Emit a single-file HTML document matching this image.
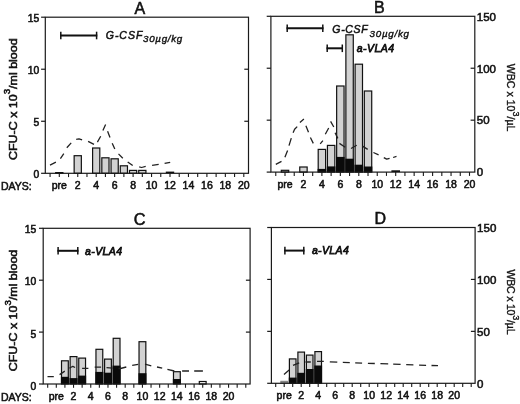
<!DOCTYPE html><html><head><meta charset="utf-8"><style>html,body{margin:0;padding:0;background:#fff;width:520px;height:404px;overflow:hidden}svg{display:block;filter:grayscale(1)}text{font-family:"Liberation Sans",sans-serif;stroke:#111;stroke-width:0.55px}</style></head><body>
<svg width="520" height="404" viewBox="0 0 520 404">
<rect width="520" height="404" fill="#fff"/>
<rect x="55.70" y="172.60" width="7.20" height="0.70" fill="#d2d2d2" stroke="#111" stroke-width="1.2"/>
<rect x="74.15" y="155.70" width="7.20" height="17.60" fill="#d2d2d2" stroke="#111" stroke-width="1.2"/>
<rect x="92.60" y="148.00" width="7.20" height="25.30" fill="#d2d2d2" stroke="#111" stroke-width="1.2"/>
<rect x="101.82" y="157.80" width="7.20" height="15.50" fill="#d2d2d2" stroke="#111" stroke-width="1.2"/>
<rect x="111.05" y="158.80" width="7.20" height="14.50" fill="#d2d2d2" stroke="#111" stroke-width="1.2"/>
<rect x="120.27" y="165.80" width="7.20" height="7.50" fill="#d2d2d2" stroke="#111" stroke-width="1.2"/>
<rect x="129.50" y="170.40" width="7.20" height="2.90" fill="#d2d2d2" stroke="#111" stroke-width="1.2"/>
<rect x="138.72" y="170.40" width="7.20" height="2.90" fill="#d2d2d2" stroke="#111" stroke-width="1.2"/>
<rect x="165.80" y="171.60" width="8.40" height="1.70" fill="#0a0a0a"/>
<path d="M50.00,165.10 L55.90,162.20 M60.40,158.70 L63.80,153.60 M66.80,147.80 L71.20,142.90 M76.20,139.40 L79.00,138.80 L82.10,139.90 M88.10,141.40 L94.00,144.40 M97.40,142.10 L100.70,136.20 M102.90,130.40 L105.60,124.60 M107.60,131.30 L110.00,137.40 M112.20,143.20 L114.80,148.90 M118.50,153.90 L122.80,158.20 M127.70,161.90 L132.70,165.60 M139.20,166.80 L141.60,167.50 L145.70,166.30 M152.10,165.40 L158.70,164.40 M164.60,163.30 L170.20,162.30" fill="none" stroke="#222" stroke-width="1.3" stroke-linejoin="round"/>
<rect x="45.30" y="17.20" width="203.20" height="156.10" fill="none" stroke="#1a1a1a" stroke-width="1.2"/>
<line x1="41.10" y1="173.30" x2="45.30" y2="173.30" stroke="#1a1a1a" stroke-width="1.2" />
<line x1="41.10" y1="121.27" x2="45.30" y2="121.27" stroke="#1a1a1a" stroke-width="1.2" />
<line x1="41.10" y1="69.23" x2="45.30" y2="69.23" stroke="#1a1a1a" stroke-width="1.2" />
<line x1="41.10" y1="17.20" x2="45.30" y2="17.20" stroke="#1a1a1a" stroke-width="1.2" />
<line x1="244.30" y1="121.27" x2="248.50" y2="121.27" stroke="#1a1a1a" stroke-width="1.2" />
<line x1="244.30" y1="69.23" x2="248.50" y2="69.23" stroke="#1a1a1a" stroke-width="1.2" />
<line x1="50.07" y1="173.30" x2="50.07" y2="177.10" stroke="#1a1a1a" stroke-width="1.1" />
<line x1="59.30" y1="173.30" x2="59.30" y2="177.10" stroke="#1a1a1a" stroke-width="1.1" />
<line x1="68.52" y1="173.30" x2="68.52" y2="177.10" stroke="#1a1a1a" stroke-width="1.1" />
<line x1="77.75" y1="173.30" x2="77.75" y2="177.10" stroke="#1a1a1a" stroke-width="1.1" />
<line x1="86.97" y1="173.30" x2="86.97" y2="177.10" stroke="#1a1a1a" stroke-width="1.1" />
<line x1="96.20" y1="173.30" x2="96.20" y2="177.10" stroke="#1a1a1a" stroke-width="1.1" />
<line x1="105.42" y1="173.30" x2="105.42" y2="177.10" stroke="#1a1a1a" stroke-width="1.1" />
<line x1="114.65" y1="173.30" x2="114.65" y2="177.10" stroke="#1a1a1a" stroke-width="1.1" />
<line x1="123.88" y1="173.30" x2="123.88" y2="177.10" stroke="#1a1a1a" stroke-width="1.1" />
<line x1="133.10" y1="173.30" x2="133.10" y2="177.10" stroke="#1a1a1a" stroke-width="1.1" />
<line x1="142.32" y1="173.30" x2="142.32" y2="177.10" stroke="#1a1a1a" stroke-width="1.1" />
<line x1="151.55" y1="173.30" x2="151.55" y2="177.10" stroke="#1a1a1a" stroke-width="1.1" />
<line x1="160.77" y1="173.30" x2="160.77" y2="177.10" stroke="#1a1a1a" stroke-width="1.1" />
<line x1="170.00" y1="173.30" x2="170.00" y2="177.10" stroke="#1a1a1a" stroke-width="1.1" />
<line x1="179.22" y1="173.30" x2="179.22" y2="177.10" stroke="#1a1a1a" stroke-width="1.1" />
<line x1="188.45" y1="173.30" x2="188.45" y2="177.10" stroke="#1a1a1a" stroke-width="1.1" />
<line x1="197.68" y1="173.30" x2="197.68" y2="177.10" stroke="#1a1a1a" stroke-width="1.1" />
<line x1="206.90" y1="173.30" x2="206.90" y2="177.10" stroke="#1a1a1a" stroke-width="1.1" />
<line x1="216.12" y1="173.30" x2="216.12" y2="177.10" stroke="#1a1a1a" stroke-width="1.1" />
<line x1="225.35" y1="173.30" x2="225.35" y2="177.10" stroke="#1a1a1a" stroke-width="1.1" />
<line x1="234.57" y1="173.30" x2="234.57" y2="177.10" stroke="#1a1a1a" stroke-width="1.1" />
<line x1="243.80" y1="173.30" x2="243.80" y2="177.10" stroke="#1a1a1a" stroke-width="1.1" />
<rect x="281.30" y="170.30" width="7.40" height="1.80" fill="#d2d2d2" stroke="#111" stroke-width="1.2"/>
<rect x="299.75" y="167.00" width="7.40" height="5.10" fill="#d2d2d2" stroke="#111" stroke-width="1.2"/>
<rect x="318.20" y="149.40" width="7.40" height="22.70" fill="#d2d2d2" stroke="#111" stroke-width="1.2"/>
<rect x="317.60" y="168.90" width="8.60" height="3.20" fill="#0a0a0a"/>
<rect x="327.43" y="145.40" width="7.40" height="26.70" fill="#d2d2d2" stroke="#111" stroke-width="1.2"/>
<rect x="326.82" y="166.40" width="8.60" height="5.70" fill="#0a0a0a"/>
<rect x="336.65" y="86.00" width="7.40" height="86.10" fill="#d2d2d2" stroke="#111" stroke-width="1.2"/>
<rect x="336.05" y="156.90" width="8.60" height="15.20" fill="#0a0a0a"/>
<rect x="345.88" y="34.80" width="7.40" height="137.30" fill="#d2d2d2" stroke="#111" stroke-width="1.2"/>
<rect x="345.27" y="158.70" width="8.60" height="13.40" fill="#0a0a0a"/>
<rect x="355.10" y="64.20" width="7.40" height="107.90" fill="#d2d2d2" stroke="#111" stroke-width="1.2"/>
<rect x="354.50" y="164.70" width="8.60" height="7.40" fill="#0a0a0a"/>
<rect x="364.32" y="91.00" width="7.40" height="81.10" fill="#d2d2d2" stroke="#111" stroke-width="1.2"/>
<rect x="363.72" y="166.50" width="8.60" height="5.60" fill="#0a0a0a"/>
<rect x="391.40" y="170.30" width="8.60" height="1.80" fill="#0a0a0a"/>
<path d="M275.80,164.30 L281.50,161.30 M284.90,157.20 L287.60,150.60 M289.00,145.60 L291.30,138.10 M293.10,132.70 L294.60,129.30 L297.20,126.60 M299.90,122.50 L303.90,119.10 M305.90,125.80 L308.50,132.20 M310.40,137.50 L313.30,143.40 M320.20,143.90 L322.90,140.70 M325.30,134.30 L328.70,128.00 M330.60,121.40 L333.80,127.00 M335.10,132.70 L337.80,138.40 M339.40,143.40 L345.20,147.30 M351.00,148.50 L356.70,145.20 M362.50,146.10 L367.70,149.40 M373.40,152.50 L378.60,154.80 M383.80,157.70 L386.70,159.20 L389.60,158.30 M393.10,157.50 L396.50,156.30" fill="none" stroke="#222" stroke-width="1.3" stroke-linejoin="round"/>
<rect x="270.90" y="16.30" width="203.90" height="155.80" fill="none" stroke="#1a1a1a" stroke-width="1.2"/>
<line x1="266.70" y1="172.10" x2="270.90" y2="172.10" stroke="#1a1a1a" stroke-width="1.2" />
<line x1="266.70" y1="120.17" x2="270.90" y2="120.17" stroke="#1a1a1a" stroke-width="1.2" />
<line x1="266.70" y1="68.23" x2="270.90" y2="68.23" stroke="#1a1a1a" stroke-width="1.2" />
<line x1="266.70" y1="16.30" x2="270.90" y2="16.30" stroke="#1a1a1a" stroke-width="1.2" />
<line x1="470.60" y1="120.17" x2="474.80" y2="120.17" stroke="#1a1a1a" stroke-width="1.2" />
<line x1="470.60" y1="68.23" x2="474.80" y2="68.23" stroke="#1a1a1a" stroke-width="1.2" />
<line x1="275.77" y1="172.10" x2="275.77" y2="175.90" stroke="#1a1a1a" stroke-width="1.1" />
<line x1="285.00" y1="172.10" x2="285.00" y2="175.90" stroke="#1a1a1a" stroke-width="1.1" />
<line x1="294.23" y1="172.10" x2="294.23" y2="175.90" stroke="#1a1a1a" stroke-width="1.1" />
<line x1="303.45" y1="172.10" x2="303.45" y2="175.90" stroke="#1a1a1a" stroke-width="1.1" />
<line x1="312.68" y1="172.10" x2="312.68" y2="175.90" stroke="#1a1a1a" stroke-width="1.1" />
<line x1="321.90" y1="172.10" x2="321.90" y2="175.90" stroke="#1a1a1a" stroke-width="1.1" />
<line x1="331.12" y1="172.10" x2="331.12" y2="175.90" stroke="#1a1a1a" stroke-width="1.1" />
<line x1="340.35" y1="172.10" x2="340.35" y2="175.90" stroke="#1a1a1a" stroke-width="1.1" />
<line x1="349.57" y1="172.10" x2="349.57" y2="175.90" stroke="#1a1a1a" stroke-width="1.1" />
<line x1="358.80" y1="172.10" x2="358.80" y2="175.90" stroke="#1a1a1a" stroke-width="1.1" />
<line x1="368.02" y1="172.10" x2="368.02" y2="175.90" stroke="#1a1a1a" stroke-width="1.1" />
<line x1="377.25" y1="172.10" x2="377.25" y2="175.90" stroke="#1a1a1a" stroke-width="1.1" />
<line x1="386.48" y1="172.10" x2="386.48" y2="175.90" stroke="#1a1a1a" stroke-width="1.1" />
<line x1="395.70" y1="172.10" x2="395.70" y2="175.90" stroke="#1a1a1a" stroke-width="1.1" />
<line x1="404.93" y1="172.10" x2="404.93" y2="175.90" stroke="#1a1a1a" stroke-width="1.1" />
<line x1="414.15" y1="172.10" x2="414.15" y2="175.90" stroke="#1a1a1a" stroke-width="1.1" />
<line x1="423.38" y1="172.10" x2="423.38" y2="175.90" stroke="#1a1a1a" stroke-width="1.1" />
<line x1="432.60" y1="172.10" x2="432.60" y2="175.90" stroke="#1a1a1a" stroke-width="1.1" />
<line x1="441.82" y1="172.10" x2="441.82" y2="175.90" stroke="#1a1a1a" stroke-width="1.1" />
<line x1="451.05" y1="172.10" x2="451.05" y2="175.90" stroke="#1a1a1a" stroke-width="1.1" />
<line x1="460.27" y1="172.10" x2="460.27" y2="175.90" stroke="#1a1a1a" stroke-width="1.1" />
<line x1="469.50" y1="172.10" x2="469.50" y2="175.90" stroke="#1a1a1a" stroke-width="1.1" />
<rect x="61.51" y="360.80" width="6.80" height="23.20" fill="#d2d2d2" stroke="#111" stroke-width="1.2"/>
<rect x="60.91" y="376.80" width="8.00" height="7.20" fill="#0a0a0a"/>
<rect x="70.13" y="356.60" width="6.80" height="27.40" fill="#d2d2d2" stroke="#111" stroke-width="1.2"/>
<rect x="69.53" y="378.10" width="8.00" height="5.90" fill="#0a0a0a"/>
<rect x="78.74" y="358.10" width="6.80" height="25.90" fill="#d2d2d2" stroke="#111" stroke-width="1.2"/>
<rect x="78.14" y="375.60" width="8.00" height="8.40" fill="#0a0a0a"/>
<rect x="95.96" y="349.30" width="6.80" height="34.70" fill="#d2d2d2" stroke="#111" stroke-width="1.2"/>
<rect x="95.36" y="371.90" width="8.00" height="12.10" fill="#0a0a0a"/>
<rect x="104.58" y="359.10" width="6.80" height="24.90" fill="#d2d2d2" stroke="#111" stroke-width="1.2"/>
<rect x="103.98" y="372.70" width="8.00" height="11.30" fill="#0a0a0a"/>
<rect x="113.19" y="338.30" width="6.80" height="45.70" fill="#d2d2d2" stroke="#111" stroke-width="1.2"/>
<rect x="112.59" y="365.60" width="8.00" height="18.40" fill="#0a0a0a"/>
<rect x="139.03" y="341.70" width="6.80" height="42.30" fill="#d2d2d2" stroke="#111" stroke-width="1.2"/>
<rect x="138.43" y="373.20" width="8.00" height="10.80" fill="#0a0a0a"/>
<rect x="173.48" y="371.70" width="6.80" height="12.30" fill="#d2d2d2" stroke="#111" stroke-width="1.2"/>
<rect x="172.88" y="379.00" width="8.00" height="5.00" fill="#0a0a0a"/>
<rect x="199.32" y="381.50" width="6.80" height="2.50" fill="#fff" stroke="#111" stroke-width="1.2"/>
<path d="M47.50,376.60 L53.80,376.60 M59.60,374.60 L64.80,371.10 M69.40,368.30 L72.80,366.30 L75.10,367.50 M82.10,368.30 L88.40,368.30 M94.70,367.20 L101.10,367.20 M106.50,367.60 L112.50,368.20 M118.50,368.50 L120.40,368.50 L126.30,367.00 M132.20,365.40 L138.20,364.40 M145.00,364.20 L151.30,365.80 M157.00,367.00 L162.20,368.20 M167.40,369.30 L174.30,371.00 M182.10,371.00 L189.00,371.00 M194.20,371.00 L202.90,371.00" fill="none" stroke="#222" stroke-width="1.3" stroke-linejoin="round"/>
<rect x="43.20" y="228.30" width="206.90" height="155.70" fill="none" stroke="#1a1a1a" stroke-width="1.2"/>
<line x1="39.00" y1="384.00" x2="43.20" y2="384.00" stroke="#1a1a1a" stroke-width="1.2" />
<line x1="39.00" y1="332.10" x2="43.20" y2="332.10" stroke="#1a1a1a" stroke-width="1.2" />
<line x1="39.00" y1="280.20" x2="43.20" y2="280.20" stroke="#1a1a1a" stroke-width="1.2" />
<line x1="39.00" y1="228.30" x2="43.20" y2="228.30" stroke="#1a1a1a" stroke-width="1.2" />
<line x1="245.90" y1="332.10" x2="250.10" y2="332.10" stroke="#1a1a1a" stroke-width="1.2" />
<line x1="245.90" y1="280.20" x2="250.10" y2="280.20" stroke="#1a1a1a" stroke-width="1.2" />
<line x1="47.69" y1="384.00" x2="47.69" y2="387.80" stroke="#1a1a1a" stroke-width="1.1" />
<line x1="56.30" y1="384.00" x2="56.30" y2="387.80" stroke="#1a1a1a" stroke-width="1.1" />
<line x1="64.91" y1="384.00" x2="64.91" y2="387.80" stroke="#1a1a1a" stroke-width="1.1" />
<line x1="73.53" y1="384.00" x2="73.53" y2="387.80" stroke="#1a1a1a" stroke-width="1.1" />
<line x1="82.14" y1="384.00" x2="82.14" y2="387.80" stroke="#1a1a1a" stroke-width="1.1" />
<line x1="90.75" y1="384.00" x2="90.75" y2="387.80" stroke="#1a1a1a" stroke-width="1.1" />
<line x1="99.36" y1="384.00" x2="99.36" y2="387.80" stroke="#1a1a1a" stroke-width="1.1" />
<line x1="107.98" y1="384.00" x2="107.98" y2="387.80" stroke="#1a1a1a" stroke-width="1.1" />
<line x1="116.59" y1="384.00" x2="116.59" y2="387.80" stroke="#1a1a1a" stroke-width="1.1" />
<line x1="125.20" y1="384.00" x2="125.20" y2="387.80" stroke="#1a1a1a" stroke-width="1.1" />
<line x1="133.82" y1="384.00" x2="133.82" y2="387.80" stroke="#1a1a1a" stroke-width="1.1" />
<line x1="142.43" y1="384.00" x2="142.43" y2="387.80" stroke="#1a1a1a" stroke-width="1.1" />
<line x1="151.04" y1="384.00" x2="151.04" y2="387.80" stroke="#1a1a1a" stroke-width="1.1" />
<line x1="159.66" y1="384.00" x2="159.66" y2="387.80" stroke="#1a1a1a" stroke-width="1.1" />
<line x1="168.27" y1="384.00" x2="168.27" y2="387.80" stroke="#1a1a1a" stroke-width="1.1" />
<line x1="176.88" y1="384.00" x2="176.88" y2="387.80" stroke="#1a1a1a" stroke-width="1.1" />
<line x1="185.50" y1="384.00" x2="185.50" y2="387.80" stroke="#1a1a1a" stroke-width="1.1" />
<line x1="194.11" y1="384.00" x2="194.11" y2="387.80" stroke="#1a1a1a" stroke-width="1.1" />
<line x1="202.72" y1="384.00" x2="202.72" y2="387.80" stroke="#1a1a1a" stroke-width="1.1" />
<line x1="211.33" y1="384.00" x2="211.33" y2="387.80" stroke="#1a1a1a" stroke-width="1.1" />
<line x1="219.95" y1="384.00" x2="219.95" y2="387.80" stroke="#1a1a1a" stroke-width="1.1" />
<line x1="228.56" y1="384.00" x2="228.56" y2="387.80" stroke="#1a1a1a" stroke-width="1.1" />
<line x1="237.17" y1="384.00" x2="237.17" y2="387.80" stroke="#1a1a1a" stroke-width="1.1" />
<line x1="245.79" y1="384.00" x2="245.79" y2="387.80" stroke="#1a1a1a" stroke-width="1.1" />
<rect x="280.80" y="381.20" width="6.80" height="2.10" fill="#8a8a8a" stroke="#777" stroke-width="0.8"/>
<rect x="289.40" y="358.90" width="6.60" height="24.40" fill="#d2d2d2" stroke="#111" stroke-width="1.2"/>
<rect x="288.80" y="377.60" width="7.80" height="5.70" fill="#0a0a0a"/>
<rect x="297.90" y="352.10" width="6.60" height="31.20" fill="#d2d2d2" stroke="#111" stroke-width="1.2"/>
<rect x="297.30" y="372.80" width="7.80" height="10.50" fill="#0a0a0a"/>
<rect x="306.40" y="355.10" width="6.60" height="28.20" fill="#d2d2d2" stroke="#111" stroke-width="1.2"/>
<rect x="305.80" y="369.00" width="7.80" height="14.30" fill="#0a0a0a"/>
<rect x="314.90" y="351.60" width="6.60" height="31.70" fill="#d2d2d2" stroke="#111" stroke-width="1.2"/>
<rect x="314.30" y="365.50" width="7.80" height="17.80" fill="#0a0a0a"/>
<path d="M284.00,374.50 L289.10,370.00 M293.00,365.40 L299.20,362.80 M305.50,362.00 L310.80,362.00 M317.00,361.30 L323.80,361.40 M329.80,361.80 L337.30,362.20 M342.80,362.40 L349.80,362.60 M355.20,362.80 L362.10,363.10 M367.90,363.30 L374.80,363.50 M380.40,363.70 L388.20,363.90 M393.20,364.20 L400.60,364.40 M406.20,364.70 L413.40,364.90 M419.10,365.10 L426.10,365.30 M431.50,365.50 L438.00,365.70" fill="none" stroke="#222" stroke-width="1.3" stroke-linejoin="round"/>
<rect x="271.40" y="227.50" width="203.70" height="155.80" fill="none" stroke="#1a1a1a" stroke-width="1.2"/>
<line x1="267.20" y1="383.30" x2="271.40" y2="383.30" stroke="#1a1a1a" stroke-width="1.2" />
<line x1="267.20" y1="331.37" x2="271.40" y2="331.37" stroke="#1a1a1a" stroke-width="1.2" />
<line x1="267.20" y1="279.43" x2="271.40" y2="279.43" stroke="#1a1a1a" stroke-width="1.2" />
<line x1="267.20" y1="227.50" x2="271.40" y2="227.50" stroke="#1a1a1a" stroke-width="1.2" />
<line x1="470.90" y1="331.37" x2="475.10" y2="331.37" stroke="#1a1a1a" stroke-width="1.2" />
<line x1="470.90" y1="279.43" x2="475.10" y2="279.43" stroke="#1a1a1a" stroke-width="1.2" />
<line x1="275.70" y1="383.30" x2="275.70" y2="387.10" stroke="#1a1a1a" stroke-width="1.1" />
<line x1="284.20" y1="383.30" x2="284.20" y2="387.10" stroke="#1a1a1a" stroke-width="1.1" />
<line x1="292.70" y1="383.30" x2="292.70" y2="387.10" stroke="#1a1a1a" stroke-width="1.1" />
<line x1="301.20" y1="383.30" x2="301.20" y2="387.10" stroke="#1a1a1a" stroke-width="1.1" />
<line x1="309.70" y1="383.30" x2="309.70" y2="387.10" stroke="#1a1a1a" stroke-width="1.1" />
<line x1="318.20" y1="383.30" x2="318.20" y2="387.10" stroke="#1a1a1a" stroke-width="1.1" />
<line x1="326.70" y1="383.30" x2="326.70" y2="387.10" stroke="#1a1a1a" stroke-width="1.1" />
<line x1="335.20" y1="383.30" x2="335.20" y2="387.10" stroke="#1a1a1a" stroke-width="1.1" />
<line x1="343.70" y1="383.30" x2="343.70" y2="387.10" stroke="#1a1a1a" stroke-width="1.1" />
<line x1="352.20" y1="383.30" x2="352.20" y2="387.10" stroke="#1a1a1a" stroke-width="1.1" />
<line x1="360.70" y1="383.30" x2="360.70" y2="387.10" stroke="#1a1a1a" stroke-width="1.1" />
<line x1="369.20" y1="383.30" x2="369.20" y2="387.10" stroke="#1a1a1a" stroke-width="1.1" />
<line x1="377.70" y1="383.30" x2="377.70" y2="387.10" stroke="#1a1a1a" stroke-width="1.1" />
<line x1="386.20" y1="383.30" x2="386.20" y2="387.10" stroke="#1a1a1a" stroke-width="1.1" />
<line x1="394.70" y1="383.30" x2="394.70" y2="387.10" stroke="#1a1a1a" stroke-width="1.1" />
<line x1="403.20" y1="383.30" x2="403.20" y2="387.10" stroke="#1a1a1a" stroke-width="1.1" />
<line x1="411.70" y1="383.30" x2="411.70" y2="387.10" stroke="#1a1a1a" stroke-width="1.1" />
<line x1="420.20" y1="383.30" x2="420.20" y2="387.10" stroke="#1a1a1a" stroke-width="1.1" />
<line x1="428.70" y1="383.30" x2="428.70" y2="387.10" stroke="#1a1a1a" stroke-width="1.1" />
<line x1="437.20" y1="383.30" x2="437.20" y2="387.10" stroke="#1a1a1a" stroke-width="1.1" />
<line x1="445.70" y1="383.30" x2="445.70" y2="387.10" stroke="#1a1a1a" stroke-width="1.1" />
<line x1="454.20" y1="383.30" x2="454.20" y2="387.10" stroke="#1a1a1a" stroke-width="1.1" />
<line x1="462.70" y1="383.30" x2="462.70" y2="387.10" stroke="#1a1a1a" stroke-width="1.1" />
<line x1="471.20" y1="383.30" x2="471.20" y2="387.10" stroke="#1a1a1a" stroke-width="1.1" />
<text x="39.30" y="21.50" font-size="10.3" text-anchor="end" font-weight="normal" font-style="normal" fill="#111" >15</text>
<text x="39.30" y="73.53" font-size="10.3" text-anchor="end" font-weight="normal" font-style="normal" fill="#111" >10</text>
<text x="39.30" y="125.57" font-size="10.3" text-anchor="end" font-weight="normal" font-style="normal" fill="#111" >5</text>
<text x="39.30" y="177.60" font-size="10.3" text-anchor="end" font-weight="normal" font-style="normal" fill="#111" >0</text>
<text x="36.20" y="232.60" font-size="10.3" text-anchor="end" font-weight="normal" font-style="normal" fill="#111" >15</text>
<text x="36.20" y="284.50" font-size="10.3" text-anchor="end" font-weight="normal" font-style="normal" fill="#111" >10</text>
<text x="36.20" y="337.70" font-size="10.3" text-anchor="end" font-weight="normal" font-style="normal" fill="#111" >5</text>
<text x="36.20" y="389.60" font-size="10.3" text-anchor="end" font-weight="normal" font-style="normal" fill="#111" >0</text>
<text x="476.80" y="20.60" font-size="11.5" text-anchor="start" font-weight="normal" font-style="normal" fill="#111" >150</text>
<text x="476.80" y="72.53" font-size="11.5" text-anchor="start" font-weight="normal" font-style="normal" fill="#111" >100</text>
<text x="476.80" y="124.47" font-size="11.5" text-anchor="start" font-weight="normal" font-style="normal" fill="#111" >50</text>
<text x="476.80" y="176.40" font-size="11.5" text-anchor="start" font-weight="normal" font-style="normal" fill="#111" >0</text>
<text x="477.10" y="231.80" font-size="11.5" text-anchor="start" font-weight="normal" font-style="normal" fill="#111" >150</text>
<text x="477.10" y="283.73" font-size="11.5" text-anchor="start" font-weight="normal" font-style="normal" fill="#111" >100</text>
<text x="477.10" y="335.67" font-size="11.5" text-anchor="start" font-weight="normal" font-style="normal" fill="#111" >50</text>
<text x="477.10" y="387.60" font-size="11.5" text-anchor="start" font-weight="normal" font-style="normal" fill="#111" >0</text>
<text x="59.30" y="188.90" font-size="10.5" text-anchor="middle" font-weight="normal" font-style="normal" fill="#111" >pre</text>
<text x="77.75" y="188.90" font-size="10.5" text-anchor="middle" font-weight="normal" font-style="normal" fill="#111" >2</text>
<text x="96.20" y="188.90" font-size="10.5" text-anchor="middle" font-weight="normal" font-style="normal" fill="#111" >4</text>
<text x="114.65" y="188.90" font-size="10.5" text-anchor="middle" font-weight="normal" font-style="normal" fill="#111" >6</text>
<text x="133.10" y="188.90" font-size="10.5" text-anchor="middle" font-weight="normal" font-style="normal" fill="#111" >8</text>
<text x="151.55" y="188.90" font-size="10.5" text-anchor="middle" font-weight="normal" font-style="normal" fill="#111" >10</text>
<text x="170.00" y="188.90" font-size="10.5" text-anchor="middle" font-weight="normal" font-style="normal" fill="#111" >12</text>
<text x="188.45" y="188.90" font-size="10.5" text-anchor="middle" font-weight="normal" font-style="normal" fill="#111" >14</text>
<text x="206.90" y="188.90" font-size="10.5" text-anchor="middle" font-weight="normal" font-style="normal" fill="#111" >16</text>
<text x="225.35" y="188.90" font-size="10.5" text-anchor="middle" font-weight="normal" font-style="normal" fill="#111" >18</text>
<text x="243.80" y="188.90" font-size="10.5" text-anchor="middle" font-weight="normal" font-style="normal" fill="#111" >20</text>
<text x="285.00" y="187.70" font-size="10.5" text-anchor="middle" font-weight="normal" font-style="normal" fill="#111" >pre</text>
<text x="303.45" y="187.70" font-size="10.5" text-anchor="middle" font-weight="normal" font-style="normal" fill="#111" >2</text>
<text x="321.90" y="187.70" font-size="10.5" text-anchor="middle" font-weight="normal" font-style="normal" fill="#111" >4</text>
<text x="340.35" y="187.70" font-size="10.5" text-anchor="middle" font-weight="normal" font-style="normal" fill="#111" >6</text>
<text x="358.80" y="187.70" font-size="10.5" text-anchor="middle" font-weight="normal" font-style="normal" fill="#111" >8</text>
<text x="377.25" y="187.70" font-size="10.5" text-anchor="middle" font-weight="normal" font-style="normal" fill="#111" >10</text>
<text x="395.70" y="187.70" font-size="10.5" text-anchor="middle" font-weight="normal" font-style="normal" fill="#111" >12</text>
<text x="414.15" y="187.70" font-size="10.5" text-anchor="middle" font-weight="normal" font-style="normal" fill="#111" >14</text>
<text x="432.60" y="187.70" font-size="10.5" text-anchor="middle" font-weight="normal" font-style="normal" fill="#111" >16</text>
<text x="451.05" y="187.70" font-size="10.5" text-anchor="middle" font-weight="normal" font-style="normal" fill="#111" >18</text>
<text x="469.50" y="187.70" font-size="10.5" text-anchor="middle" font-weight="normal" font-style="normal" fill="#111" >20</text>
<text x="56.30" y="400.30" font-size="10.5" text-anchor="middle" font-weight="normal" font-style="normal" fill="#111" >pre</text>
<text x="73.53" y="400.30" font-size="10.5" text-anchor="middle" font-weight="normal" font-style="normal" fill="#111" >2</text>
<text x="90.75" y="400.30" font-size="10.5" text-anchor="middle" font-weight="normal" font-style="normal" fill="#111" >4</text>
<text x="107.98" y="400.30" font-size="10.5" text-anchor="middle" font-weight="normal" font-style="normal" fill="#111" >6</text>
<text x="125.20" y="400.30" font-size="10.5" text-anchor="middle" font-weight="normal" font-style="normal" fill="#111" >8</text>
<text x="142.43" y="400.30" font-size="10.5" text-anchor="middle" font-weight="normal" font-style="normal" fill="#111" >10</text>
<text x="159.66" y="400.30" font-size="10.5" text-anchor="middle" font-weight="normal" font-style="normal" fill="#111" >12</text>
<text x="176.88" y="400.30" font-size="10.5" text-anchor="middle" font-weight="normal" font-style="normal" fill="#111" >14</text>
<text x="194.11" y="400.30" font-size="10.5" text-anchor="middle" font-weight="normal" font-style="normal" fill="#111" >16</text>
<text x="211.33" y="400.30" font-size="10.5" text-anchor="middle" font-weight="normal" font-style="normal" fill="#111" >18</text>
<text x="228.56" y="400.30" font-size="10.5" text-anchor="middle" font-weight="normal" font-style="normal" fill="#111" >20</text>
<text x="284.20" y="398.90" font-size="10.5" text-anchor="middle" font-weight="normal" font-style="normal" fill="#111" >pre</text>
<text x="301.20" y="398.90" font-size="10.5" text-anchor="middle" font-weight="normal" font-style="normal" fill="#111" >2</text>
<text x="318.20" y="398.90" font-size="10.5" text-anchor="middle" font-weight="normal" font-style="normal" fill="#111" >4</text>
<text x="335.20" y="398.90" font-size="10.5" text-anchor="middle" font-weight="normal" font-style="normal" fill="#111" >6</text>
<text x="352.20" y="398.90" font-size="10.5" text-anchor="middle" font-weight="normal" font-style="normal" fill="#111" >8</text>
<text x="369.20" y="398.90" font-size="10.5" text-anchor="middle" font-weight="normal" font-style="normal" fill="#111" >10</text>
<text x="386.20" y="398.90" font-size="10.5" text-anchor="middle" font-weight="normal" font-style="normal" fill="#111" >12</text>
<text x="403.20" y="398.90" font-size="10.5" text-anchor="middle" font-weight="normal" font-style="normal" fill="#111" >14</text>
<text x="420.20" y="398.90" font-size="10.5" text-anchor="middle" font-weight="normal" font-style="normal" fill="#111" >16</text>
<text x="437.20" y="398.90" font-size="10.5" text-anchor="middle" font-weight="normal" font-style="normal" fill="#111" >18</text>
<text x="454.20" y="398.90" font-size="10.5" text-anchor="middle" font-weight="normal" font-style="normal" fill="#111" >20</text>
<text x="1.00" y="189.50" font-size="10.5" text-anchor="start" font-weight="normal" font-style="normal" fill="#111" >DAYS:</text>
<text x="1.00" y="401.00" font-size="10.5" text-anchor="start" font-weight="normal" font-style="normal" fill="#111" >DAYS:</text>
<text x="139.80" y="13.90" font-size="16" text-anchor="middle" font-weight="normal" font-style="normal" fill="#111" >A</text>
<text x="379.30" y="12.60" font-size="16" text-anchor="middle" font-weight="normal" font-style="normal" fill="#111" >B</text>
<text x="139.70" y="225.20" font-size="16.3" text-anchor="middle" font-weight="normal" font-style="normal" fill="#111" >C</text>
<text x="380.40" y="223.70" font-size="16" text-anchor="middle" font-weight="normal" font-style="normal" fill="#111" >D</text>
<text transform="translate(17.20,160.00) rotate(-90)" font-size="11.5" fill="#111" textLength="121.60" lengthAdjust="spacingAndGlyphs">CFU-C x 10<tspan font-size="9" dy="-6.8">3</tspan><tspan dy="6.8">/ml blood</tspan></text>
<text transform="translate(17.30,371.20) rotate(-90)" font-size="11.5" fill="#111" textLength="121.50" lengthAdjust="spacingAndGlyphs">CFU-C x 10<tspan font-size="9" dy="-6.8">3</tspan><tspan dy="6.8">/ml blood</tspan></text>
<text transform="translate(506.60,63.70) rotate(90)" font-size="10.6" fill="#111" style="stroke-width:0.35px" textLength="67.80" lengthAdjust="spacing">WBC x 10<tspan font-size="9" dy="-6.8">3</tspan><tspan dy="6.8">/µL</tspan></text>
<text transform="translate(506.60,269.40) rotate(90)" font-size="10.6" fill="#111" style="stroke-width:0.35px" textLength="65.20" lengthAdjust="spacing">WBC x 10<tspan font-size="9" dy="-6.8">3</tspan><tspan dy="6.8">/µL</tspan></text>
<line x1="60.10" y1="35.50" x2="97.30" y2="35.50" stroke="#111" stroke-width="2.0" />
<line x1="60.80" y1="31.70" x2="60.80" y2="39.30" stroke="#111" stroke-width="1.5" />
<line x1="96.60" y1="31.70" x2="96.60" y2="39.30" stroke="#111" stroke-width="1.5" />
<text x="105.80" y="38.60" font-size="10.5" text-anchor="start" font-weight="normal" font-style="italic" fill="#111" textLength="36.50" lengthAdjust="spacing" style="stroke-width:0.5px">G-CSF</text>
<text x="143.00" y="42.30" font-size="9.8" text-anchor="start" font-weight="normal" font-style="italic" fill="#111" textLength="39.30" lengthAdjust="spacing" style="stroke-width:0.4px">30µg/kg</text>
<line x1="286.50" y1="28.20" x2="323.50" y2="28.20" stroke="#111" stroke-width="2.0" />
<line x1="287.20" y1="24.40" x2="287.20" y2="32.00" stroke="#111" stroke-width="1.5" />
<line x1="322.80" y1="24.40" x2="322.80" y2="32.00" stroke="#111" stroke-width="1.5" />
<text x="332.30" y="33.00" font-size="10.5" text-anchor="start" font-weight="normal" font-style="italic" fill="#111" textLength="35.40" lengthAdjust="spacing" style="stroke-width:0.5px">G-CSF</text>
<text x="369.60" y="37.40" font-size="9.8" text-anchor="start" font-weight="normal" font-style="italic" fill="#111" textLength="39.40" lengthAdjust="spacing" style="stroke-width:0.4px">30µg/kg</text>
<line x1="326.50" y1="48.30" x2="343.00" y2="48.30" stroke="#111" stroke-width="2.0" />
<line x1="327.20" y1="44.50" x2="327.20" y2="52.10" stroke="#111" stroke-width="1.5" />
<line x1="342.30" y1="44.50" x2="342.30" y2="52.10" stroke="#111" stroke-width="1.5" />
<text x="356.70" y="51.70" font-size="10.5" text-anchor="start" font-weight="normal" font-style="italic" fill="#111" textLength="37.50" lengthAdjust="spacing" style="stroke-width:0.75px">a-VLA4</text>
<line x1="57.40" y1="250.80" x2="78.50" y2="250.80" stroke="#111" stroke-width="2.0" />
<line x1="58.10" y1="247.00" x2="58.10" y2="254.60" stroke="#111" stroke-width="1.5" />
<line x1="77.80" y1="247.00" x2="77.80" y2="254.60" stroke="#111" stroke-width="1.5" />
<text x="85.10" y="254.70" font-size="10.5" text-anchor="start" font-weight="normal" font-style="italic" fill="#111" textLength="36.90" lengthAdjust="spacing" style="stroke-width:0.75px">a-VLA4</text>
<line x1="284.20" y1="250.60" x2="304.50" y2="250.60" stroke="#111" stroke-width="2.0" />
<line x1="284.90" y1="246.80" x2="284.90" y2="254.40" stroke="#111" stroke-width="1.5" />
<line x1="303.80" y1="246.80" x2="303.80" y2="254.40" stroke="#111" stroke-width="1.5" />
<text x="311.90" y="253.80" font-size="10.5" text-anchor="start" font-weight="normal" font-style="italic" fill="#111" textLength="36.90" lengthAdjust="spacing" style="stroke-width:0.75px">a-VLA4</text>
</svg></body></html>
